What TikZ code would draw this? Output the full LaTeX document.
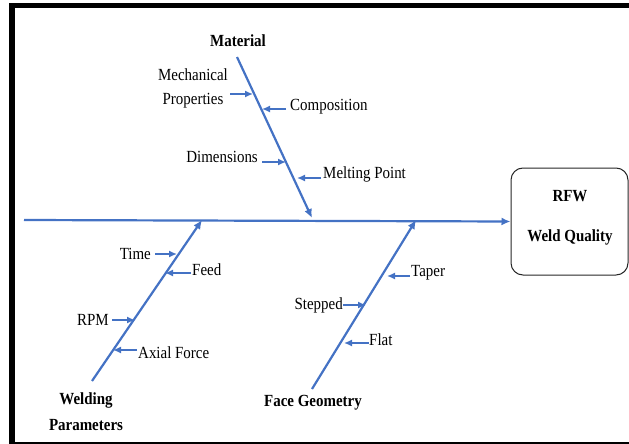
\documentclass[tikz,border=0pt]{standalone}
\usepackage{fontspec}
\setmainfont{Liberation Serif}[FakeStretch=0.88]
\usetikzlibrary{arrows.meta}
\definecolor{bone}{RGB}{68,114,196}
\tikzset{
  lbl/.style={font=\fontsize{17}{19}\selectfont, inner sep=0pt, align=center},
  cat/.style={font=\fontsize{17}{26}\selectfont\bfseries, inner sep=0pt, align=center},
  bonel/.style={draw=bone, line width=2.2pt, -{Latex[length=9pt,width=8pt]}},
  sub/.style={draw=bone, line width=1.5pt, -{Latex[length=8pt,width=7pt]}},
}
\begin{document}
\begin{tikzpicture}[x=1pt,y=-1pt]
\useasboundingbox (0,0) rectangle (629,444);
% frame
\fill[black] (9,3) rectangle (629,8);
\fill[black] (9,3) rectangle (15,444);
\fill[black] (9,441.5) rectangle (629,444);

% effect box
\node[draw=black!85, line width=1pt, rounded corners=12pt, minimum width=117pt, minimum height=107pt, inner sep=0pt] (eff) at (569.5,221.5) {};
\node[cat] (rfw) at (570,196) {RFW};
\node[cat] (wq) at (570,237) {Weld Quality};

% spine
\coordinate (s0) at (24,220);
\draw[bonel] (s0) -- (eff.west);

% Material
\coordinate (m0) at (237,57);
\coordinate (m1) at (312,218);
\node[cat] (mat) at (238,41) {Material};
\draw[bonel] (m0) -- (m1);
\node[lbl, font=\fontsize{17}{24}\selectfont] (mech) at (193,88) {Mechanical\\Properties};
\coordinate (mechA) at (230,94); \coordinate (mechB) at (253,94);
\draw[sub] (mechA) -- (mechB);
\node[lbl, anchor=west] (comp) at (290,107) {Composition};
\coordinate (compA) at (286,109); \coordinate (compB) at (262,109);
\draw[sub] (compA) -- (compB);
\node[lbl, anchor=east] (dim) at (258,157) {Dimensions};
\coordinate (dimA) at (262,162); \coordinate (dimB) at (286,162);
\draw[sub] (dimA) -- (dimB);
\node[lbl, anchor=west] (melt) at (323,174) {Melting Point};
\coordinate (meltA) at (321,178); \coordinate (meltB) at (297,178);
\draw[sub] (meltA) -- (meltB);

% Welding Parameters
\coordinate (w0) at (92,381);
\coordinate (w1) at (202,220);
\draw[bonel] (w0) -- (w1);
\node[cat] (wp) at (86,412) {Welding\\Parameters};
\node[lbl, anchor=east] (time) at (151,254) {Time};
\coordinate (timeA) at (155,254); \coordinate (timeB) at (177,254);
\draw[sub] (timeA) -- (timeB);
\node[lbl, anchor=west] (feed) at (192,270) {Feed};
\coordinate (feedA) at (191,273); \coordinate (feedB) at (165,273);
\draw[sub] (feedA) -- (feedB);
\node[lbl, anchor=east] (rpm) at (109,320) {RPM};
\coordinate (rpmA) at (112,320); \coordinate (rpmB) at (135,320);
\draw[sub] (rpmA) -- (rpmB);
\node[lbl, anchor=west] (axial) at (138,353) {Axial Force};
\coordinate (axA) at (137,350); \coordinate (axB) at (113,350);
\draw[sub] (axA) -- (axB);

% Face Geometry
\coordinate (f0) at (312,389);
\coordinate (f1) at (416,220);
\draw[bonel] (f0) -- (f1);
\node[cat] (fg) at (313,403) {Face Geometry};
\node[lbl, anchor=west] (taper) at (411,273) {Taper};
\coordinate (tapA) at (410,276); \coordinate (tapB) at (387,276);
\draw[sub] (tapA) -- (tapB);
\node[lbl, anchor=east] (step2) at (343,305) {Stepped};
\coordinate (stA) at (343,305); \coordinate (stB) at (366,305);
\draw[sub] (stA) -- (stB);
\node[lbl, anchor=west] (flat) at (369,340) {Flat};
\coordinate (flA) at (369,343); \coordinate (flB) at (344,343);
\draw[sub] (flA) -- (flB);
\end{tikzpicture}
\end{document}
